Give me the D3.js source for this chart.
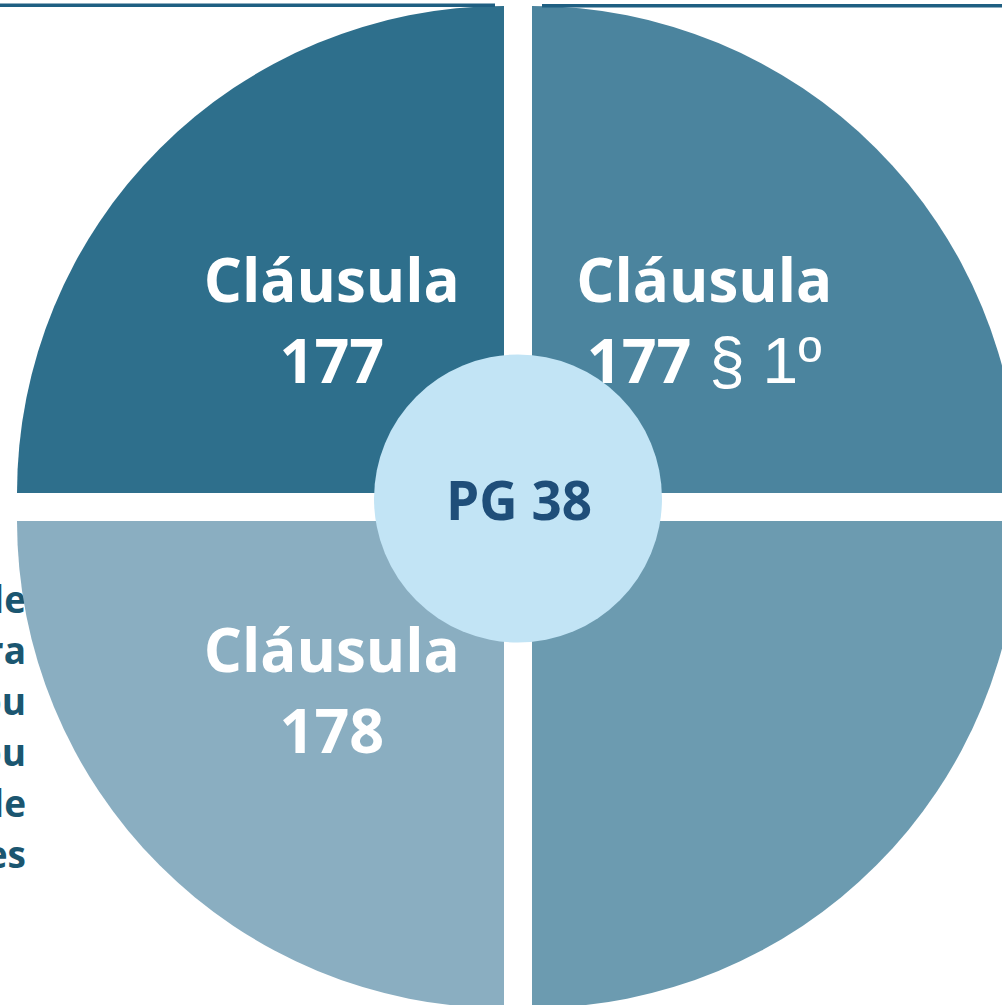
<!DOCTYPE html>
<html>
<head>
<meta charset="utf-8">
<script src="https://cdn.jsdelivr.net/npm/d3@7"></script>
<style>
  body { margin: 0; background: #fff; }
  svg { display: block; }
</style>
</head>
<body>
<div id="chart"></div>
<script>
// slices in d3.pie order (clockwise from 12 o'clock)
var sliceNames = ["tr", "br", "bl", "tl"]
var sliceValues = [1, 1, 1, 1]
var sliceTitles = ["Cláusula", "", "Cláusula", "Cláusula"]
var sliceNumbers = ["177", "", "178", "177"]
var sliceSuffix = [" § 1º", "", "", ""]
var sliceColors = ["#4b849e", "#6c9bb0", "#8aaec1", "#2e6f8c"]

var centerLabel = "PG 38"
// text cut off at the left border of the slide
var sideFragments = ["le", "ra", "ou", "ou", "le", "es"]

var width = 1002, height = 1005
var cx = 518, cy = 507
var radius = 487
var gap = 14

var svg = d3.select("#chart").append("svg")
    .attr("width", width)
    .attr("height", height)

// side text (behind the pie)
svg.append("text")
    .attr("text-anchor", "end")
    .style("font-family", "'Open Sans', sans-serif")
    .style("font-weight", "bold")
    .style("font-size", "37px")
    .style("fill", "#1b5670")
    .selectAll("tspan")
    .data(sideFragments)
    .enter().append("tspan")
        .attr("x", 26)
        .attr("y", function(d, i){ return 613 + i * 51 })
        .text(function(d){ return d })

var pie = d3.pie().sort(null).value(function(d){ return d })
var arcs = pie(sliceValues)
var arc = d3.arc().innerRadius(0).outerRadius(radius)

function offset(a){
    var mid = (a.startAngle + a.endAngle) / 2
    return [Math.sign(Math.sin(mid)) * gap, Math.sign(-Math.cos(mid)) * gap]
}

var g = svg.selectAll(".slice")
    .data(arcs)
    .enter().append("g")
    .attr("class", function(d, i){ return "slice slice_" + sliceNames[i] })
    .attr("transform", function(d){
        var o = offset(d)
        return "translate(" + (cx + o[0]) + "," + (cy + o[1]) + ")"
    })

g.append("path")
    .attr("d", arc)
    .style("fill", function(d, i){ return sliceColors[i] })

var labels = g.append("g")
    .attr("transform", function(d){
        var c = arc.centroid(d)
        return "translate(" + c[0] + "," + c[1] + ")"
    })

labels.append("text")
    .attr("text-anchor", "middle")
    .attr("y", function(d, i){ return sliceNames[i] == "bl" ? -21 : -19 })
    .style("font-family", "'Open Sans', sans-serif")
    .style("font-weight", "bold")
    .style("font-size", "60px")
    .style("fill", "#fff")
    .text(function(d, i){ return sliceTitles[i] })

var line2 = labels.append("text")
    .attr("text-anchor", "middle")
    .attr("y", function(d, i){ return sliceNames[i] == "bl" ? 60 : 62 })
    .style("fill", "#fff")

line2.append("tspan")
    .style("font-family", "'Open Sans', sans-serif")
    .style("font-weight", "bold")
    .style("font-size", "61px")
    .text(function(d, i){ return sliceNumbers[i] })

line2.append("tspan")
    .style("font-family", "'Liberation Sans', Arial, sans-serif")
    .style("font-size", "64px")
    .style("white-space", "pre")
    .text(function(d, i){ return sliceSuffix[i] })

// centre circle
svg.append("circle")
    .attr("cx", cx)
    .attr("cy", cy - 8.5)
    .attr("r", 144)
    .style("fill", "#c2e4f5")

svg.append("text")
    .attr("x", cx + 1)
    .attr("y", cy + 13)
    .attr("text-anchor", "middle")
    .style("font-family", "'Open Sans', sans-serif")
    .style("font-weight", "bold")
    .style("font-size", "53px")
    .style("fill", "#1f4e79")
    .text(centerLabel)

// rules at the top edge
svg.append("line")
    .attr("x1", 0).attr("x2", 495)
    .attr("y1", 5.2).attr("y2", 5.2)
    .style("stroke", "#1f5f82")
    .style("stroke-width", 3.5)

svg.append("line")
    .attr("x1", 542).attr("x2", width)
    .attr("y1", 5.8).attr("y2", 5.8)
    .style("stroke", "#1f5f82")
    .style("stroke-width", 3.5)
</script>
</body>
</html>
